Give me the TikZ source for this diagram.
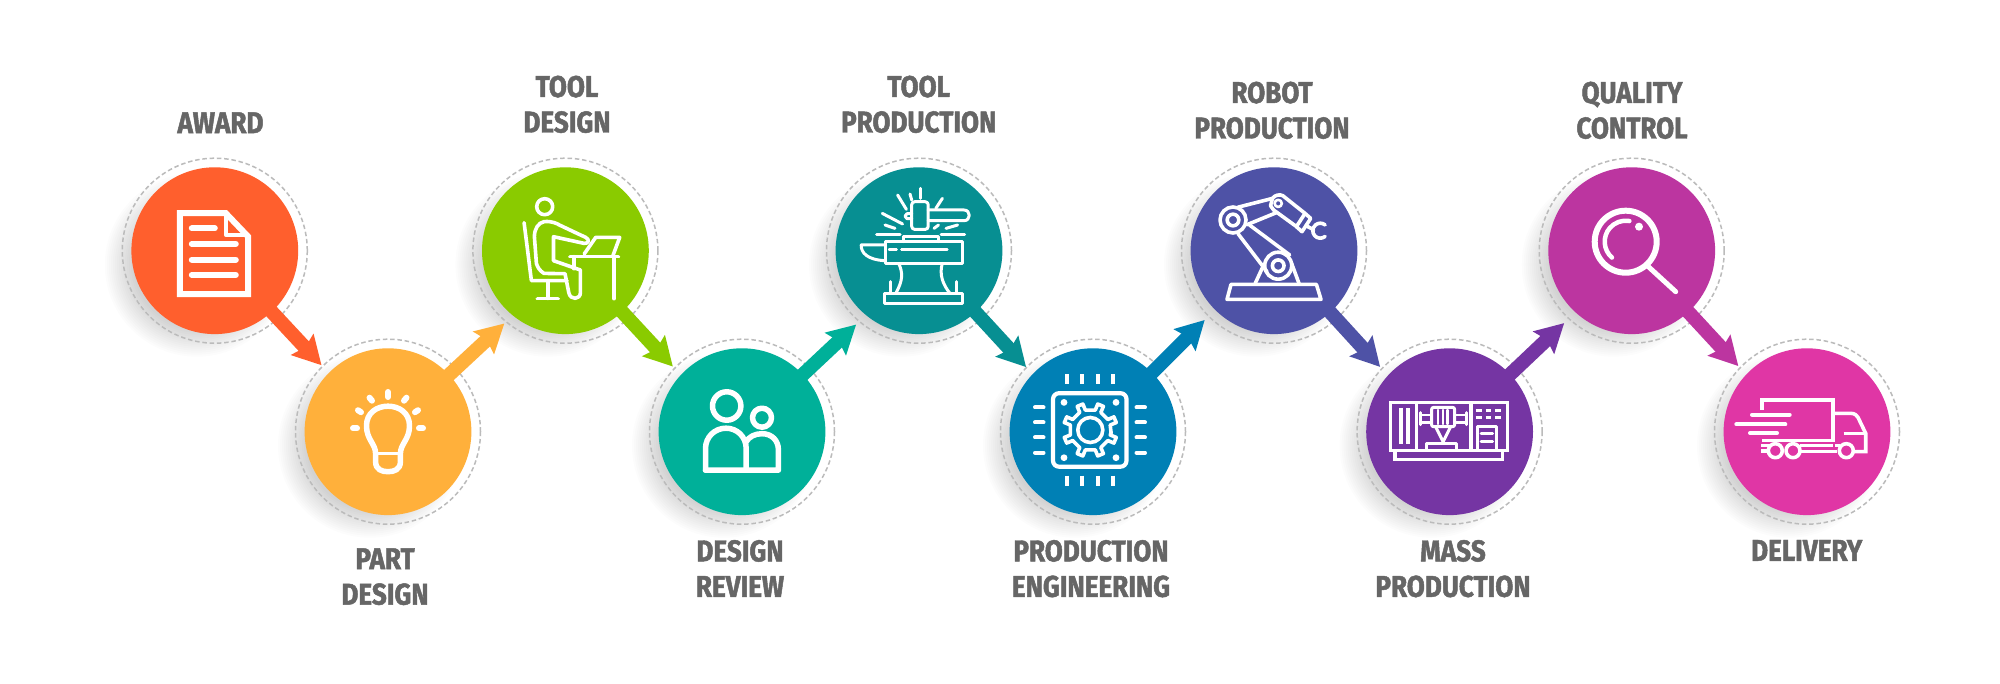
\documentclass[tikz,border=0pt]{standalone}
\usepackage{fontspec}
\usetikzlibrary{arrows.meta}
\newfontfamily\labfont[FakeStretch=0.87,BoldFeatures={FakeBold=1.6}]{Fira Sans}
\definecolor{col1}{HTML}{FF5F2D}
\definecolor{col2}{HTML}{FFB03B}
\definecolor{col3}{HTML}{8ACB00}
\definecolor{col4}{HTML}{00B099}
\definecolor{col5}{HTML}{078F92}
\definecolor{col6}{HTML}{0080B5}
\definecolor{col7}{HTML}{4E52A6}
\definecolor{col8}{HTML}{7535A3}
\definecolor{col9}{HTML}{BC35A0}
\definecolor{col10}{HTML}{E036A5}
\definecolor{labgray}{HTML}{666666}
\definecolor{ringgray}{HTML}{BBBBBB}
\tikzset{
  x=1pt,y=1pt,
  disc/.style={circle,inner sep=0pt,outer sep=0pt,minimum size=166.8pt},
  ringnode/.style={circle,inner sep=0pt,outer sep=0pt,minimum size=185pt,draw=ringgray,line width=1.5pt,dash pattern=on 4.5pt off 2.8pt},
  flow/.style={line width=14pt,-{Stealth[length=28pt,width=30pt,inset=4pt]},shorten <=-5pt},
  lab/.style={anchor=north,inner sep=0pt,outer sep=0pt,align=center,text=labgray,font=\labfont\bfseries\fontsize{30}{35.5}\selectfont},
  icon/.style={draw=white,line width=3.6pt,line cap=round,line join=round},
  thin icon/.style={icon,line width=3pt},
  thick icon/.style={icon,line width=6pt},
}
\begin{document}
\begin{tikzpicture}
\useasboundingbox (0,0) rectangle (2000,683);
\fill[white] (0,0) rectangle (2000,683);
% soft shadows, dashed rings, discs
\foreach \n/\px/\py in {1/214.8/432.3,2/388/251.3,3/565.4/432.3,4/742/251.3,5/919/432.3,6/1093/251.3,7/1274/432.3,8/1449.6/251.3,9/1631.7/432.3,10/1807/251.3}{
  \foreach \r in {64,66,...,92}{
    \fill[black,opacity=0.012] (\px-18,\py-14) circle[radius=\r];
  }
  \node[ringnode] (r\n) at (\px,\py) {};
  \node[disc,fill=col\n] (c\n) at (\px,\py) {};
}
% free arrow ends on the next ring
\coordinate (t12) at ([shift={(135:94)}]c2.center);
\coordinate (t23) at ([shift={(230:95)}]c3.center);
\coordinate (t34) at ([shift={(136.7:95)}]c4.center);
\coordinate (t45) at ([shift={(229.6:97)}]c5.center);
\coordinate (t56) at ([shift={(136:93)}]c6.center);
\coordinate (t67) at ([shift={(225:98)}]c7.center);
\coordinate (t78) at ([shift={(137:95)}]c8.center);
\coordinate (t89) at ([shift={(227:99)}]c9.center);
\coordinate (t910) at ([shift={(136.3:95)}]c10.center);
\draw[flow,col1] (c1) -- (t12);
\draw[flow,col2] (c2) -- (t23);
\draw[flow,col3] (c3) -- (t34);
\draw[flow,col4] (c4) -- (t45);
\draw[flow,col5] (c5) -- (t56);
\draw[flow,col6] (c6) -- (t67);
\draw[flow,col7] (c7) -- (t78);
\draw[flow,col8] (c8) -- (t89);
\draw[flow,col9] (c9) -- (t910);
% labels
\node[lab] (l1) at (220.5,570.7) {AWARD};
\node[lab] (l2) at (385,134.7) {PART\\DESIGN};
\node[lab] (l3) at (567,607.3) {TOOL\\DESIGN};
\node[lab] (l4) at (740,143) {DESIGN\\REVIEW};
\node[lab] (l5) at (918.7,607.3) {TOOL\\PRODUCTION};
\node[lab] (l6) at (1091,143) {PRODUCTION\\ENGINEERING};
\node[lab] (l7) at (1272,601.3) {ROBOT\\PRODUCTION};
\node[lab] (l8) at (1453,143) {MASS\\PRODUCTION};
\node[lab] (l9) at (1632,601.3) {QUALITY\\CONTROL};
\node[lab] (l10) at (1806.7,143) {DELIVERY};
% icon 1: document
\begin{scope}[shift={(c1.center)},yscale=-1]
  \draw[icon,line width=6pt,line join=miter] (-35,-37.5) -- (11,-37.5) -- (33.4,-14) -- (33.4,43.5) -- (-35,43.5) -- cycle;
  \draw[icon,line width=4pt,line cap=butt] (11,-37.5) -- (11,-16) -- (33.4,-16);
  \draw[thick icon] (-23,-22.3) -- (0,-22.3);
  \draw[thick icon] (-23,-6.7) -- (21,-6.7);
  \draw[thick icon] (-23,9) -- (21,9);
  \draw[thick icon] (-23,24.3) -- (21,24.3);
\end{scope}
% icon 2: bulb
\begin{scope}[shift={(c2.center)},yscale=-1]
  \draw[icon,line width=5.5pt] (-12.4,22) .. controls (-12.4,12) and (-21.5,8) .. (-21.5,-6) .. controls (-21.5,-19) and (-11,-25.5) .. (0,-25.5) .. controls (11,-25.5) and (21.5,-19) .. (21.5,-6) .. controls (21.5,8) and (12.4,12) .. (12.4,22) -- (12.4,30) .. controls (12.4,38) and (6,40) .. (0,40) .. controls (-6,40) and (-12.4,38) .. (-12.4,30) -- cycle;
  \draw[icon,line width=3pt] (-12.4,22) -- (12.4,22);
  \draw[thick icon] (0,-39.7) -- (0,-34.7);
  \draw[thick icon] (-18.5,-34) -- (-16,-31);
  \draw[thick icon] (18.5,-34) -- (16,-31);
  \draw[thick icon] (-30,-21.5) -- (-27,-19.5);
  \draw[thick icon] (30,-21.5) -- (27,-19.5);
  \draw[thick icon] (-35,-3.3) -- (-31,-3.3);
  \draw[thick icon] (35,-3.3) -- (31,-3.3);
\end{scope}
% icon 3: person at desk
\begin{scope}[shift={(c3.center)},yscale=-1]
  \draw[icon] (-20.7,-44) circle[radius=8];
  \draw[icon] (-41.3,-28) -- (-34,30) -- (1.5,30);
  \draw[icon] (-17.6,30) -- (-17.6,47.7);
  \draw[icon] (-28,48) -- (-7.3,48);
  \draw[icon] (-21.4,-29) .. controls (-14,-30) and (-8,-27) .. (-6,-25.7) -- (13,-16.7) -- (20,-13.5) .. controls (25,-11) and (23,-7) .. (18.8,-7.3) -- (-11.9,-14) -- (-11.9,10) -- (15,19.3) -- (15,42) .. controls (15,49) and (5,50) .. (3.4,42) -- (0.8,29) -- (-0.4,23) -- (-21.4,22.7) .. controls (-26,20) and (-28,16) .. (-29,12.7) -- (-31,-14) .. controls (-31,-22) and (-27,-28) .. (-21.4,-29) -- cycle;
  \draw[icon] (4.6,6) -- (53,6);
  \draw[icon] (48.6,6) -- (48.6,48);
  \draw[icon] (8.4,6) -- (8.4,18);
  \draw[icon] (18.8,3.3) -- (30.3,-13.3) -- (54.3,-13.3) -- (47.4,5.3);
\end{scope}
% icon 4: two people
\begin{scope}[shift={(c4.center)},yscale=-1]
  \draw[icon,line width=5.5pt] (-15.3,-25.7) circle[radius=14.2];
  \draw[icon,line width=5.5pt] (20,-14) circle[radius=9.5];
  \draw[icon,line width=5.5pt] (-36.5,38.5) -- (-36.5,17) .. controls (-36.5,5) and (-27,-3.5) .. (-16,-3.5) .. controls (-5,-3.5) and (4.2,5) .. (4.2,17) -- (4.2,38.5);
  \draw[icon,line width=5.5pt] (4.2,10) .. controls (7,5) and (13,2) .. (20,2) .. controls (30,2) and (36.4,9) .. (36.4,18) -- (36.4,38.5) -- (-36.5,38.5);
\end{scope}
% icon 5: anvil and hammer
\begin{scope}[shift={(c5.center)},yscale=-1]
  \draw[thin icon] (-34.8,42.7) rectangle (43.6,52.7);
  \draw[thin icon] (-29,31) -- (-29,42.7);
  \draw[thin icon] (37.9,31) -- (37.9,42.7);
  \draw[thin icon] (-20.3,12.7) .. controls (-16,22) and (-16,30) .. (-23.3,42.7);
  \draw[thin icon] (23.3,12.7) .. controls (20,24) and (24,34) .. (31,42.7);
  \draw[thin icon] (-34,-9) rectangle (43.6,12.7);
  \draw[thin icon] (-34,-5.7) -- (-57.8,-5.7) .. controls (-58,2) and (-52,9) .. (-34,10);
  \draw[thin icon] (-15.7,-9) -- (-15.7,-14) -- (19.5,-14) -- (19.5,-9);
  \draw[thin icon] (-42.5,-15.7) -- (-19,-15.7);
  \draw[thin icon] (22,-15.7) -- (45.5,-15.7);
  \draw[icon,line width=2.4pt] (-30,-1.3) -- (-22.4,-1.3);
  \draw[icon,line width=2.4pt] (-17.6,-1.3) -- (28.3,-1.3);
  \draw[thin icon,rounded corners=3pt] (-7.3,-49) rectangle (9.2,-21.3);
  \draw[thin icon] (9.2,-40.7) -- (45,-40.7) .. controls (52,-40.7) and (52,-30) .. (45,-30) -- (9.2,-30);
  \draw[thin icon] (-7.3,-37) -- (-12,-37) -- (-14,-34.5) -- (-12,-32) -- (-7.3,-32);
  \draw[thin icon] (-21.4,-55.7) -- (-12.6,-41.3);
  \draw[thin icon] (-9,-56.7) -- (-7.3,-50.7);
  \draw[thin icon] (1.5,-62.3) -- (1.5,-52.3);
  \draw[thin icon] (23.4,-52.3) -- (16.8,-42.3);
  \draw[thin icon] (-36.7,-37.3) -- (-16.4,-26.7);
  \draw[thin icon] (-34,-25.7) -- (-24,-22.3);
  \draw[thin icon] (15,-22.3) -- (19.5,-25.7);
  \draw[thin icon] (27,-22.3) -- (38.6,-25.7);
\end{scope}
% icon 6: chip with gear
\begin{scope}[shift={(c6.center)},yscale=-1]
  \draw[icon,line width=4.2pt,rounded corners=6pt] (-40,-38.5) rectangle (33.5,35);
  \foreach \v in {-25.6,-10.7,4.6,20}{
    \draw[icon,line width=4pt,line cap=butt] (\v,-57.3) -- (\v,-47.3);
    \draw[icon,line width=4pt,line cap=butt] (\v,44) -- (\v,54);
  }
  \foreach \v in {-24.3,-9.3,5.7,21}{
    \draw[icon,line width=4pt] (-58,\v) -- (-49.5,\v);
    \draw[icon,line width=4pt] (43.5,\v) -- (52,\v);
  }
  \foreach \u/\v in {-29/-29.3,23/-29.3,-29/26,23/26}{
    \fill[white] (\u,\v) circle[radius=3.4];
  }
  \begin{scope}[shift={(-2.7,-1.7)}]
    \draw[icon] (8:21) \foreach \a in {0,45,...,315}{ -- ({\a+14}:20.5) -- ({\a+16}:27) -- ({\a+29}:27) -- ({\a+31}:20.5) } -- cycle;
    \draw[icon,line width=3.6pt] (0,0) circle[radius=12.5];
  \end{scope}
\end{scope}
% icon 7: robot arm
\begin{scope}[shift={(c7.center)},yscale=-1]
  \draw[icon] (-43,33.7) -- (42.4,33.7) -- (47,48.7) -- (-47,48.7) -- cycle;
  \draw[icon] (-18.8,32.7) -- (-10.3,14.3);
  \draw[icon] (25,32.7) -- (17.6,12.7);
  \draw[icon] (4.2,15) circle[radius=13.5];
  \draw[icon] (4.2,15) circle[radius=5.8];
  \draw[icon] (-41,-30.7) circle[radius=13];
  \draw[icon] (-41,-30.7) circle[radius=5.8];
  \draw[icon] (-36,-17) -- (-7,21);
  \draw[icon] (-24.5,-25.7) -- (15.7,4.3);
  \draw[icon] (-36,-43.5) -- (-1.5,-52.3);
  \draw[icon] (-27,-26) -- (2.3,-38);
  \draw[icon,line width=2.6pt] (4.2,-47.3) circle[radius=3.6];
  \draw[icon] (-1.5,-52.3) .. controls (1,-56) and (6,-56.5) .. (8.8,-55) -- (31,-37.3);
  \draw[icon] (-1.5,-52.3) -- (-3.5,-45) -- (-0.4,-40.7) -- (22.6,-24);
  \draw[icon] (31,-37.3) -- (36.7,-32.3) -- (28,-19) -- (22.4,-24) -- cycle;
  \draw[icon] (33,-24.5) -- (39.5,-21);
  \draw[icon] ([shift={(46.3,-20)}]50:7.5) arc[start angle=50,end angle=310,radius=7.5];
\end{scope}
% icon 8: machine
\begin{scope}[shift={(c8.center)},yscale=-1]
  \draw[icon,line cap=butt,line join=miter] (-59,-29.3) rectangle (57.8,19);
  \draw[icon,line cap=butt,line join=miter] (-54.5,19) -- (-54.5,27.7) -- (53,27.7) -- (53,19);
  \draw[icon,line cap=butt] (-33,-29.3) -- (-33,19);
  \draw[icon,line cap=butt] (21.4,-29.3) -- (21.4,19);
  \draw[icon,line cap=butt] (-48.6,-23.3) -- (-48.6,12.3);
  \draw[icon,line cap=butt] (-41.7,-23.3) -- (-41.7,12.3);
  \draw[icon,line width=3pt,rounded corners=2pt] (-18,-24.3) rectangle (5,-5);
  \draw[icon,line width=2.4pt] (-11.5,-21.7) -- (-11.5,-7.7);
  \draw[icon,line width=2.4pt] (-6.5,-21.7) -- (-6.5,-7.7);
  \draw[icon,line width=2.4pt] (-2,-21.7) -- (-2,-7.7);
  \draw[icon,line width=3pt] (-14,-5) -- (-6.5,10) -- (1,-5);
  \draw[icon,line width=2.6pt] (-29.5,-16.7) -- (-18,-16.7);
  \draw[icon,line width=2.6pt] (-29.5,-9) -- (-18,-9);
  \draw[icon,line width=2.6pt] (5,-16.7) -- (17,-16.7);
  \draw[icon,line width=2.6pt] (5,-9) -- (17,-9);
  \draw[icon,line width=3pt] (-29.5,-19) -- (-29.5,-7);
  \draw[icon,line width=3pt] (17,-19) -- (17,-7);
  \draw[icon,line cap=butt] (-23,19) -- (-23,11.7) -- (7,11.7) -- (7,19);
  \foreach \v in {-21,-14}{
    \draw[icon,line cap=butt,line width=3pt] (26,\v) -- (32,\v);
    \draw[icon,line cap=butt,line width=3pt] (36,\v) -- (41,\v);
    \draw[icon,line cap=butt,line width=3pt] (45.6,\v) -- (51,\v);
  }
  \draw[icon,line width=3pt,line cap=butt] (28,19) -- (28,-5) -- (47,-5) -- (47,19);
  \draw[icon,line width=3pt] (31.6,2.3) -- (43,2.3);
  \draw[icon,line width=3pt] (31.6,10) -- (43,10);
\end{scope}
% icon 9: magnifier
\begin{scope}[shift={(c9.center)},yscale=-1]
  \draw[icon,line width=6pt] (-6,-9) circle[radius=31];
  \draw[icon,line width=5pt] (16.7,16) -- (44,41);
  \draw[icon,line width=4.5pt] ([shift={(-6,-9)}]131:21) arc[start angle=131,end angle=280,radius=21];
  \fill[white] (7.3,-24) circle[radius=4];
\end{scope}
% icon 10: truck
\begin{scope}[shift={(c10.center)},yscale=-1]
  \draw[icon,line cap=butt,line join=miter] (-45,-21.7) -- (-45,-31.7) -- (26,-31.7) -- (26,9) -- (-45,9);
  \draw[icon,line cap=butt] (-7.3,14) -- (26,14);
  \draw[icon,line cap=butt] (-7.3,20) -- (30,20);
  \draw[icon,line cap=butt] (-45.7,14) -- (-36,14);
  \draw[icon,line cap=butt] (-45.7,19.5) -- (-39,19.5);
  \draw[icon,line cap=butt] (27.7,14) -- (32.7,14);
  \draw[icon,line cap=butt,line join=miter] (27.7,-18.3) -- (44.3,-18.3) .. controls (48,-18.3) and (50,-16) .. (51,-14.3) -- (58.7,1.7) -- (58.7,20) -- (47,20);
  \draw[icon,line cap=butt] (36.7,1.7) -- (58.7,1.7);
  \draw[icon] (-31.7,19) circle[radius=7];
  \draw[icon] (-14,19) circle[radius=7];
  \draw[icon] (39.3,19) circle[radius=7];
  \draw[icon,line width=4pt] (-55,-17) -- (-17.3,-17);
  \draw[icon,line width=4pt] (-70.7,-7.3) -- (-21.7,-7.3);
  \draw[icon,line width=4pt] (-57,1.3) -- (-30,1.3);
\end{scope}
\end{tikzpicture}
\end{document}
